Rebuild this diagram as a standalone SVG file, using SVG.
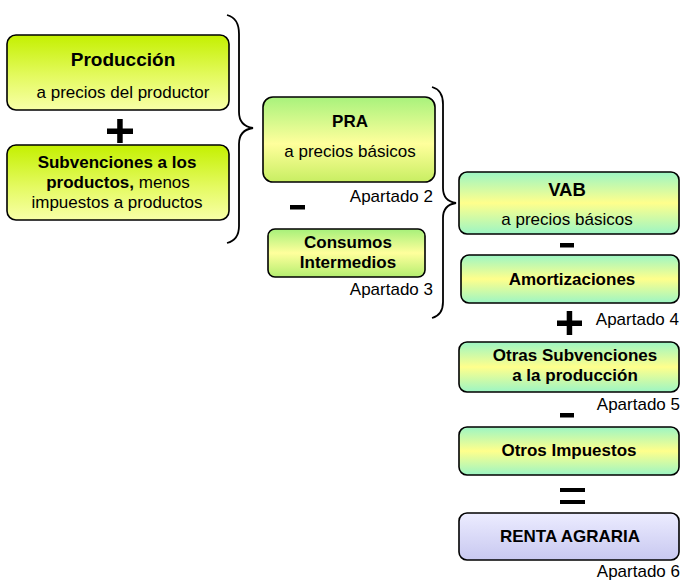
<svg xmlns="http://www.w3.org/2000/svg" width="680" height="580" viewBox="0 0 680 580">
<defs>
<linearGradient id="gLime" x1="0" y1="0" x2="0" y2="1">
<stop offset="0" stop-color="#c4f000"/><stop offset="0.55" stop-color="#e4fa60"/><stop offset="1" stop-color="#f8ffa8"/>
</linearGradient>
<linearGradient id="gPra" x1="0" y1="0" x2="0" y2="1">
<stop offset="0" stop-color="#a8f27c"/><stop offset="0.55" stop-color="#ffff9c"/><stop offset="1" stop-color="#c8ee62"/>
</linearGradient>
<linearGradient id="gCons" x1="0" y1="0" x2="0" y2="1">
<stop offset="0" stop-color="#a6f07a"/><stop offset="0.5" stop-color="#ffff9c"/><stop offset="1" stop-color="#b4ee70"/>
</linearGradient>
<linearGradient id="gAqua" x1="0" y1="0" x2="0" y2="1">
<stop offset="0" stop-color="#9cf5c4"/><stop offset="0.5" stop-color="#ffff8c"/><stop offset="1" stop-color="#9cf5c4"/>
</linearGradient>
<linearGradient id="gLav" x1="0" y1="0" x2="0" y2="1">
<stop offset="0" stop-color="#ececff"/><stop offset="1" stop-color="#c8c8f0"/>
</linearGradient>
</defs>
<style>
.box{stroke:#000;stroke-width:1.6}
.t{font-family:"Liberation Sans",Arial,sans-serif;font-size:17px;fill:#000;text-anchor:middle}
.b{font-weight:bold}
.lbl{font-family:"Liberation Sans",Arial,sans-serif;font-size:17px;fill:#000;text-anchor:end}
.brace{fill:none;stroke:#000;stroke-width:1.8}
.op{fill:#000}
</style>

<g id="produccion">
<rect class="box" x="7" y="35" width="222" height="75" rx="9" fill="url(#gLime)"/>
<text class="t b" x="123" y="66" style="font-size:19px">Producción</text>
<text class="t" x="123" y="98">a precios del productor</text>
</g>

<g id="subvenciones">
<rect class="box" x="7" y="145" width="222" height="75" rx="9" fill="url(#gLime)"/>
<text class="t" x="117" y="168"><tspan class="b">Subvenciones a los</tspan></text>
<text class="t" x="118" y="188"><tspan font-weight="bold">productos,</tspan> menos</text>
<text class="t" x="117" y="208">impuestos a productos</text>
</g>

<g id="pra">
<rect class="box" x="263" y="97" width="172" height="85" rx="10" fill="url(#gPra)"/>
<text class="t b" x="350" y="127">PRA</text>
<text class="t" x="350" y="157">a precios básicos</text>
<text class="lbl" x="433" y="202">Apartado 2</text>
</g>

<g id="consumos">
<rect class="box" x="268" y="229" width="157" height="48" rx="7" fill="url(#gCons)"/>
<text class="t b" x="348" y="248">Consumos</text>
<text class="t b" x="348" y="268">Intermedios</text>
<text class="lbl" x="433" y="295">Apartado 3</text>
</g>

<g id="vab">
<rect class="box" x="459" y="172" width="220" height="62" rx="8" fill="url(#gAqua)"/>
<text class="t b" x="567" y="196" style="font-size:18.5px">VAB</text>
<text class="t" x="567" y="225">a precios básicos</text>
</g>

<g id="amortizaciones">
<rect class="box" x="461" y="255" width="218" height="48" rx="8" fill="url(#gAqua)"/>
<text class="t b" x="572" y="285">Amortizaciones</text>
<text class="lbl" x="679" y="325">Apartado 4</text>
</g>

<g id="otras-subvenciones">
<rect class="box" x="459" y="342" width="220" height="50" rx="8" fill="url(#gAqua)"/>
<text class="t b" x="575" y="361">Otras Subvenciones</text>
<text class="t b" x="575" y="381">a la producción</text>
<text class="lbl" x="680" y="410">Apartado 5</text>
</g>

<g id="otros-impuestos">
<rect class="box" x="459" y="427" width="220" height="48" rx="8" fill="url(#gAqua)"/>
<text class="t b" x="569" y="456">Otros Impuestos</text>
</g>

<g id="renta-agraria">
<rect class="box" x="459" y="513" width="220" height="47" rx="8" fill="url(#gLav)"/>
<text class="t b" x="570" y="542">RENTA AGRARIA</text>
<text class="lbl" x="680" y="577">Apartado 6</text>
</g>

<g id="connectors">
<path class="brace" d="M227,15 Q239,18 239,34 L239,112 Q239,126 253,128 Q239,130 239,144 L239,226 Q239,240 227,243"/>
<path class="brace" d="M432,87 Q443,90 443,104 L443,188 Q443,201 456,203 Q443,205 443,218 L443,302 Q443,315 432,318"/>
<rect class="op" x="107" y="128.5" width="26" height="5.5"/>
<rect class="op" x="117.2" y="119" width="5.5" height="24"/>
<rect class="op" x="290" y="205" width="15" height="4.5"/>
<rect class="op" x="560" y="243" width="14" height="4.5"/>
<rect class="op" x="557" y="320.5" width="25" height="5.5"/>
<rect class="op" x="566.7" y="311" width="5.5" height="24"/>
<rect class="op" x="560" y="413" width="14" height="4.5"/>
<rect class="op" x="560" y="488" width="25" height="4"/>
<rect class="op" x="560" y="500" width="25" height="4"/>
</g>
</svg>
